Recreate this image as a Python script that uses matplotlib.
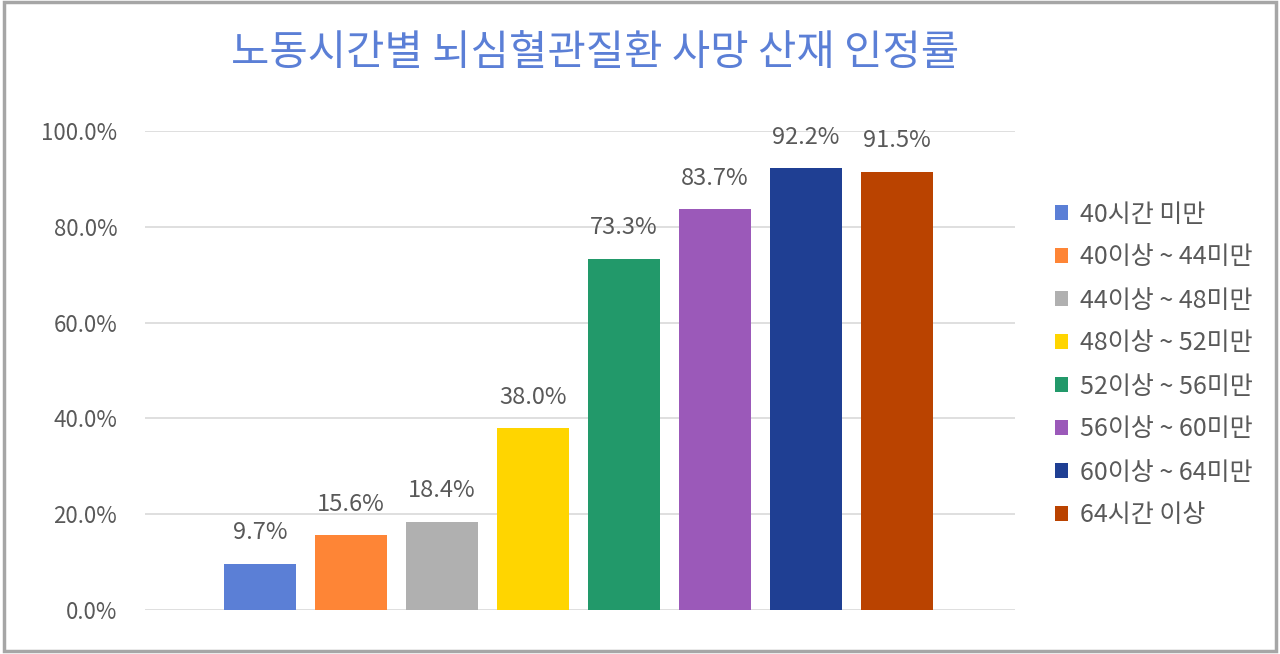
import matplotlib.pyplot as plt
from matplotlib.patches import Rectangle

plt.rcParams['font.family'] = ['Noto Sans CJK KR', 'DejaVu Sans']

categories = ['40시간 미만', '40이상 ~ 44미만', '44이상 ~ 48미만', '48이상 ~ 52미만',
              '52이상 ~ 56미만', '56이상 ~ 60미만', '60이상 ~ 64미만', '64시간 이상']
values = [9.7, 15.6, 18.4, 38.0, 73.3, 83.7, 92.2, 91.5]
colors = ['#5B7FD6', '#FE8536', '#B0B0B0', '#FFD500',
          '#22996A', '#9B59B9', '#1F3F93', '#BA4300']
yticks = [0, 20, 40, 60, 80, 100]

fig = plt.figure(figsize=(12.8, 6.54), dpi=100)
ax = fig.add_axes([145 / 1280, 1 - 610 / 654, 870 / 1280, 479 / 654])

text_gray = '#595959'
for i, (cat, v, c) in enumerate(zip(categories, values, colors)):
    ax.bar(i, v, width=0.79, color=c, label=cat, zorder=3)
    ax.annotate(f'{v:.1f}%', (i, v), xytext=(0, 14), textcoords='offset points',
                ha='center', va='bottom', fontsize=17, color=text_gray,
                annotation_clip=False)

ax.set_xlim(-1.264, 8.297)
ax.set_ylim(0, 100)
ax.set_yticks(yticks)
ax.set_yticklabels([f'{t:.1f}%' for t in yticks], fontsize=16, color=text_gray)
ax.set_xticks([])
ax.tick_params(axis='y', length=0, pad=20)
ax.grid(axis='y', color='#d9d9d9', linewidth=1.2, zorder=0)
for s in ax.spines.values():
    s.set_visible(False)

fig.text(595 / 1280, 1 - 54 / 654, '노동시간별 뇌심혈관질환 사망 산재 인정률', ha='center', va='center',
         fontsize=30, color='#5B7FD6')

fig.legend(loc='center left', bbox_to_anchor=(1032 / 1280, 1 - 365 / 654),
           frameon=False, fontsize=18, labelcolor=text_gray, handlelength=0.55,
           handleheight=0.55, handletextpad=0.45, labelspacing=0.68)

fig.patches.append(Rectangle((4 / 1280, 3 / 654), 1272 / 1280, 649 / 654,
                             transform=fig.transFigure, fill=False,
                             edgecolor='#a6a6a6', linewidth=2.5))

fig.savefig('out.png', dpi=100)
